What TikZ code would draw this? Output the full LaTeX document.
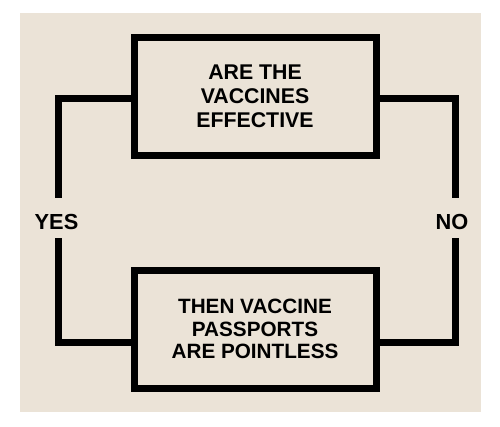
\documentclass[tikz,border=0pt]{standalone}
\usepackage{fontspec}
\setmainfont{Liberation Sans}
\definecolor{beige}{HTML}{EBE3D7}
\tikzset{
  qbox/.style={draw=black, line width=7pt, fill=beige, minimum width=242pt, minimum height=118pt,
    align=center, font=\fontsize{21.3}{24}\selectfont\bfseries, inner sep=0pt},
  conn/.style={draw=black, line width=7pt, line join=miter},
  lbl/.style={font=\fontsize{21.8}{24}\selectfont\bfseries, inner sep=0pt}
}
\begin{document}
\begin{tikzpicture}[x=1pt,y=-1pt]
\useasboundingbox (0,0) rectangle (500,426);
\fill[white] (0,0) rectangle (500,426);
\fill[beige] (20,13) rectangle (481,412);
\node[qbox] (top) at (255,96.5) {ARE THE\\VACCINES\\EFFECTIVE};
\node[qbox, font=\fontsize{20.7}{22.7}\selectfont\bfseries] (bot) at (255,329) {THEN VACCINE\\PASSPORTS\\ARE POINTLESS};
\node[lbl] (yes) at (56.5,222) {YES};
\node[lbl] (no) at (452,222) {NO};
\coordinate (ya) at (58,198);
\coordinate (yb) at (58,238);
\coordinate (na) at (455,198);
\coordinate (nb) at (455,238);
\draw[conn] ([yshift=-1.5pt]top.west) -| (ya);
\draw[conn] (yb) |- ([yshift=-13pt]bot.west);
\draw[conn] ([yshift=-1.5pt]top.east) -| (na);
\draw[conn] (nb) |- ([yshift=-13pt]bot.east);
\end{tikzpicture}
\end{document}
